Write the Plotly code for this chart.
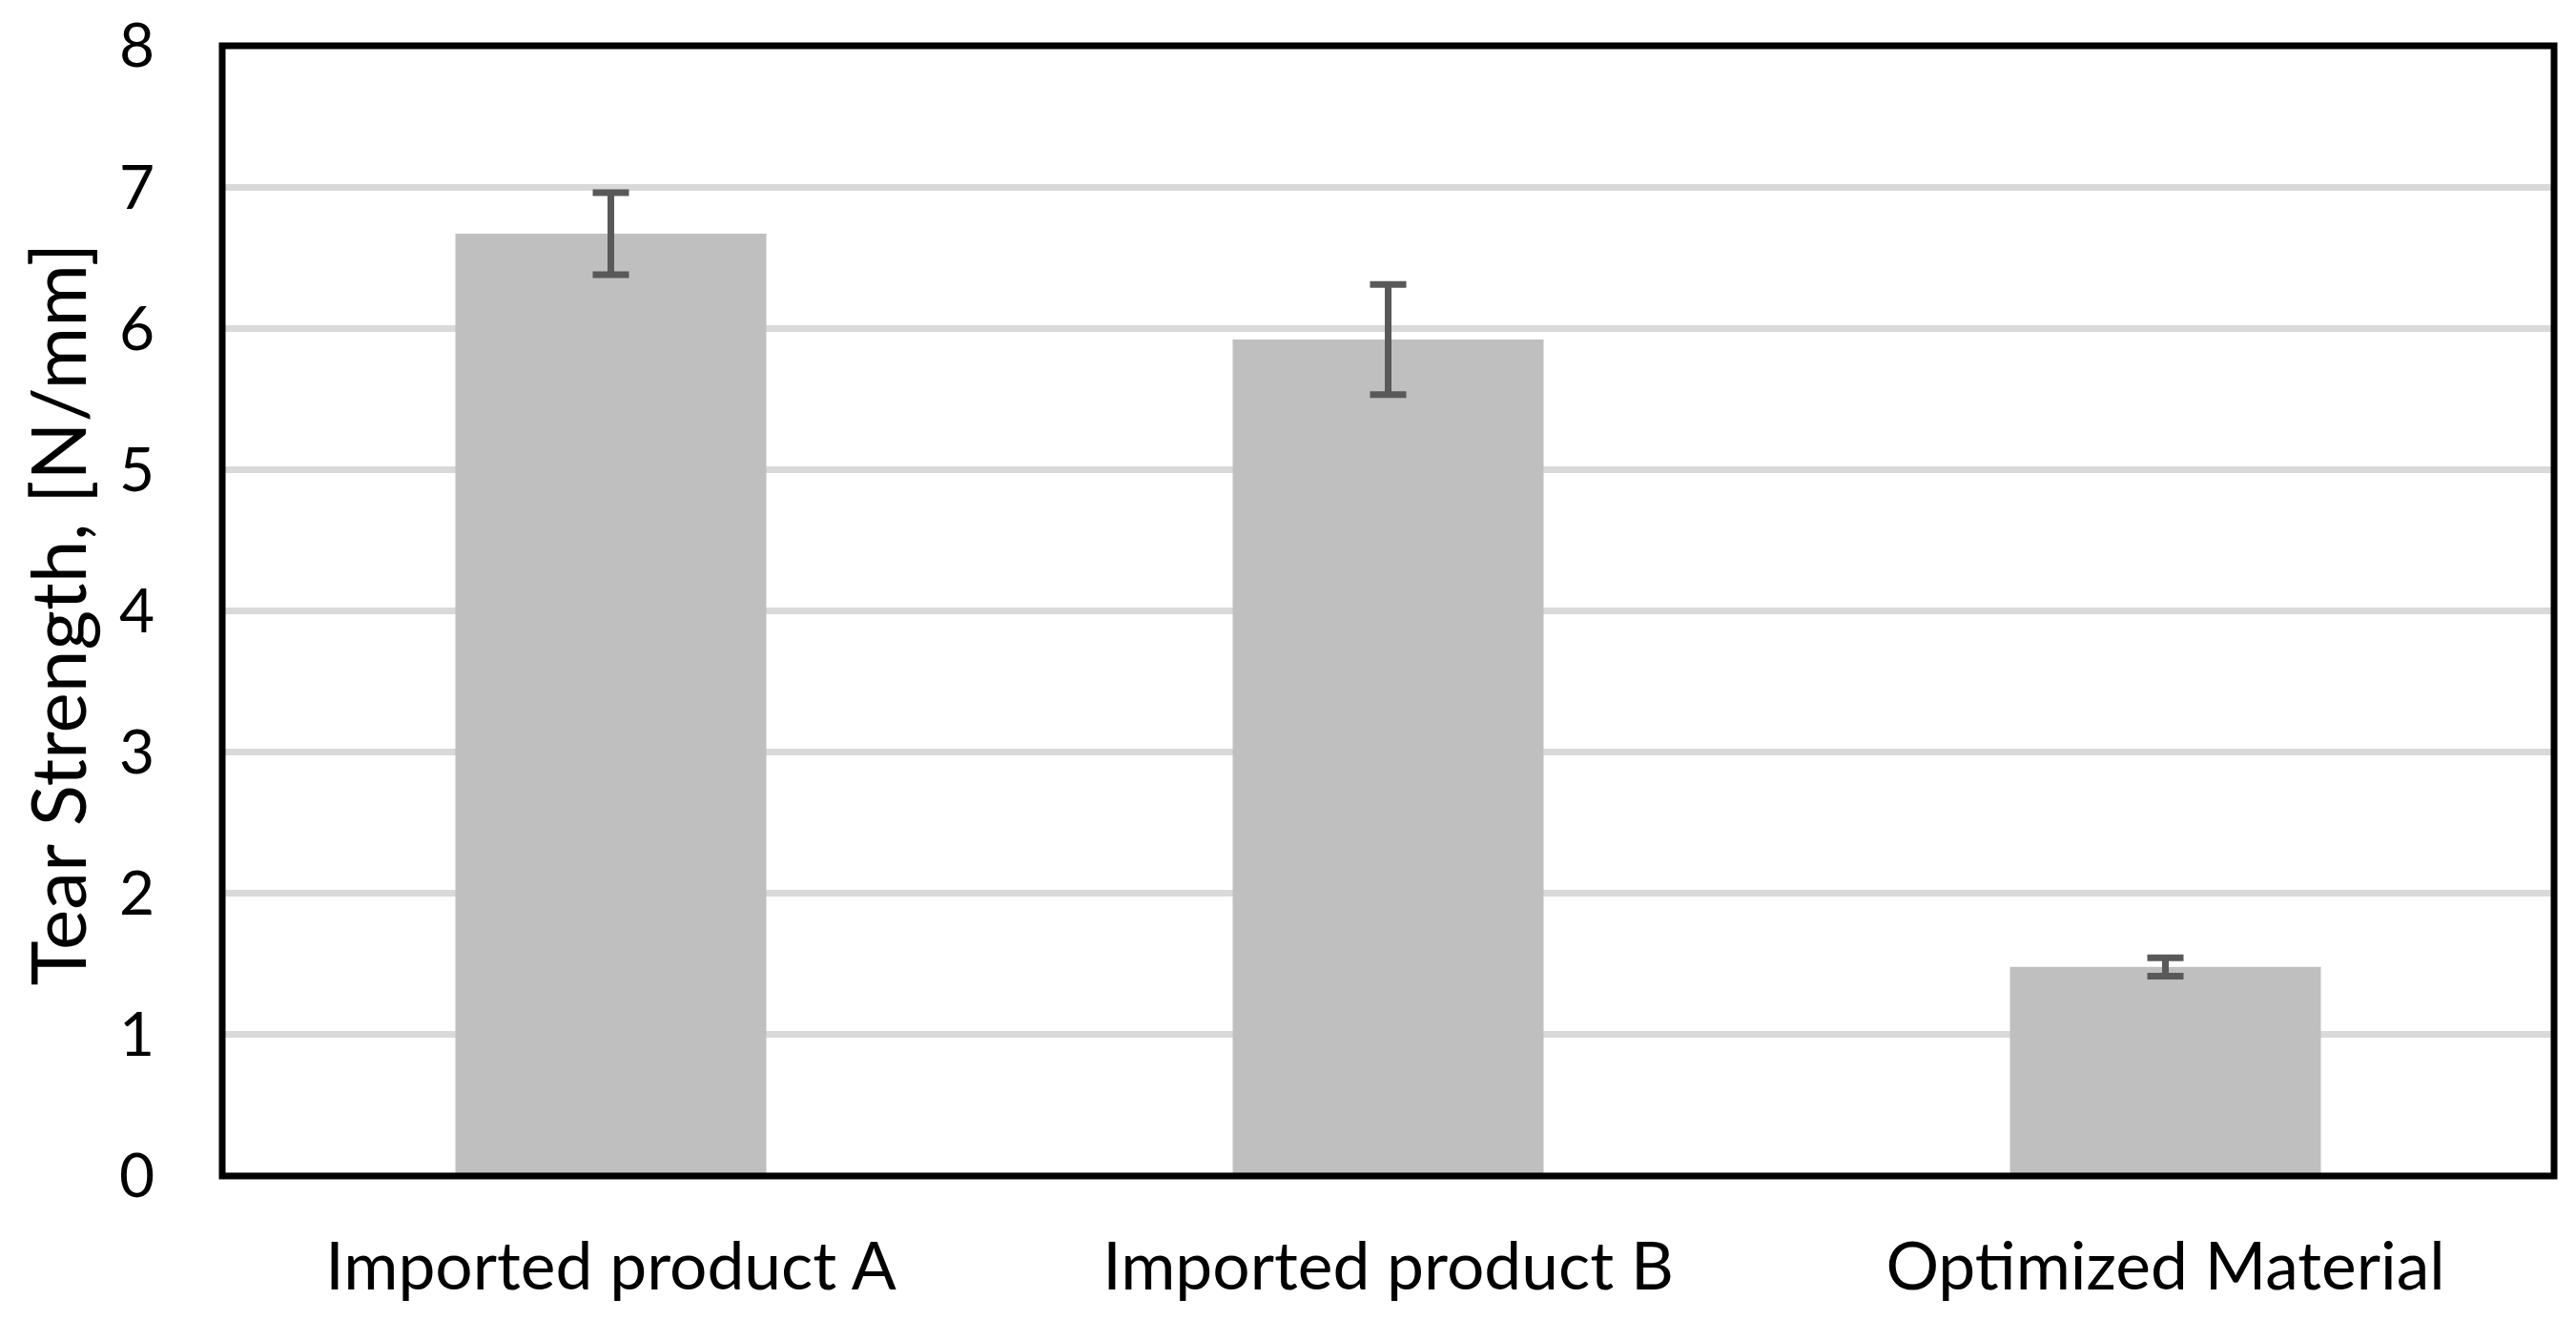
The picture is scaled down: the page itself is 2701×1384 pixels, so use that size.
import plotly.graph_objects as go

categories = ["Imported product A", "Imported product B", "Optimized Material"]
tear_strength = [6.67, 5.92, 1.48]
tear_error = [0.29, 0.39, 0.065]
y_ticks = [0, 1, 2, 3, 4, 5, 6, 7, 8]
y_title = "Tear Strength, [N/mm]"

FONT = "Lato"

fig = go.Figure()
fig.add_trace(go.Bar(
    x=categories,
    y=tear_strength,
    marker=dict(color="#bfbfbf", line=dict(width=0)),
    width=0.4,
    error_y=dict(type="data", array=tear_error, visible=True,
                 color="#595959", thickness=7, width=19),
))

W, H = 2701, 1384
L, R, T, B = 232.5, 23, 47.7, 150.7
plot_w = W - L - R

fig.update_layout(
    width=W, height=H,
    paper_bgcolor="white", plot_bgcolor="white",
    margin=dict(l=L, r=R, t=T, b=B, pad=0),
    showlegend=False,
    font=dict(family=FONT, color="black"),
    xaxis=dict(
        showline=False, showgrid=False, zeroline=False, automargin=False,
        tickfont=dict(size=69.5, family=FONT, color="black"),
        ticks="", ticklabelstandoff=48,
    ),
    yaxis=dict(
        range=[0, 8], tickvals=y_ticks, automargin=False,
        showline=False, zeroline=False,
        showgrid=True, gridcolor="#d9d9d9", gridwidth=7,
        tickfont=dict(size=64, family=FONT, color="black"),
        ticks="", ticklabelstandoff=70,
    ),
    shapes=[dict(type="rect", xref="paper", yref="paper", x0=0, x1=1, y0=0, y1=1,
                 line=dict(color="black", width=7), layer="above")],
    annotations=[dict(
        text=y_title, xref="paper", yref="paper",
        x=-(L - 59) / plot_w, y=0.497, xanchor="center", yanchor="middle",
        textangle=-90, showarrow=False,
        font=dict(size=80, family=FONT, color="black"),
    )],
)

fig.write_html("out.html",
               config={"displayModeBar": False},
               post_script="document.body.style.margin='0';document.body.style.overflow='hidden';")
